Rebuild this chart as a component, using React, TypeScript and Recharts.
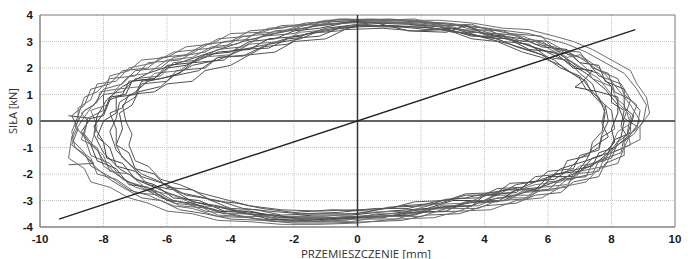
import {
  CartesianGrid,
  Line,
  LineChart,
  ReferenceArea,
  ReferenceLine,
  XAxis,
  YAxis,
} from "recharts";

type Pt = [number, number];

const xTicks = [-10, -8, -6, -4, -2, 0, 2, 4, 6, 8, 10];
const yTicks = [-4, -3, -2, -1, 0, 1, 2, 3, 4];

const loopA: Pt[] = [
  [0, 3.75], [1, 3.72], [2, 3.65], [3, 3.5], [4, 3.3], [5, 3.0], [5.8, 2.7], [6.5, 2.3], [7.2, 1.8], [7.8, 1.2],
  [8.2, 0.6], [8.4, 0], [8.3, -0.6], [8.0, -1.1], [7.5, -1.6], [6.8, -2.0], [6.0, -2.4], [5.0, -2.8], [4.0, -3.0],
  [3.0, -3.2], [2.0, -3.35], [1.0, -3.5], [0, -3.6], [-1, -3.65], [-2, -3.65], [-3, -3.5], [-4, -3.35], [-5, -3.1],
  [-6, -2.7], [-6.8, -2.3], [-7.5, -1.8], [-8.0, -1.2], [-8.3, -0.5], [-8.2, 0.2], [-7.9, 0.8], [-7.4, 1.3],
  [-6.6, 1.8], [-5.6, 2.2], [-4.6, 2.6], [-3.6, 3.0], [-2.6, 3.3], [-1.5, 3.55], [-0.5, 3.7], [0, 3.75],
];

const loopB: Pt[] = [
  [0.2, 3.8], [1.4, 3.8], [2.2, 3.7], [3.0, 3.65], [3.6, 3.45], [4.6, 3.4], [5.2, 3.1], [6.0, 3.0], [6.6, 2.6],
  [7.2, 2.3], [7.6, 1.7], [8.3, 1.4], [8.6, 0.8], [8.9, 0.4], [8.8, -0.3], [8.4, -0.6], [8.3, -1.2], [7.6, -1.5],
  [7.4, -2.0], [6.6, -2.2], [6.2, -2.6], [5.2, -2.7], [4.7, -3.0], [3.8, -3.1], [3.2, -3.4], [2.0, -3.45],
  [1.2, -3.7], [0, -3.7], [-1.2, -3.8], [-2.2, -3.75], [-3.2, -3.7], [-4.0, -3.5], [-4.8, -3.4], [-5.4, -3.1],
  [-6.2, -2.9], [-6.8, -2.5], [-7.4, -2.2], [-7.8, -1.6], [-8.4, -1.3], [-8.6, -0.6], [-8.9, -0.2], [-8.6, 0.4],
  [-8.3, 0.6], [-8.0, 1.2], [-7.4, 1.4], [-7.0, 1.9], [-6.2, 2.0], [-5.8, 2.4], [-4.8, 2.6], [-4.2, 3.0],
  [-3.2, 3.1], [-2.6, 3.4], [-1.6, 3.5], [-0.8, 3.75], [0.2, 3.8],
];

const loopC: Pt[] = [
  [0, 3.6], [1.2, 3.6], [2.4, 3.5], [3.4, 3.3], [4.4, 3.1], [5.0, 2.8], [5.8, 2.5], [6.4, 2.0], [7.0, 1.7],
  [7.4, 1.1], [7.8, 0.6], [7.9, 0], [7.7, -0.5], [7.6, -1.0], [7.0, -1.4], [6.6, -1.9], [5.8, -2.2], [5.2, -2.5],
  [4.2, -2.7], [3.4, -2.9], [2.6, -3.0], [1.6, -3.3], [0.6, -3.3], [-0.6, -3.45], [-1.8, -3.5], [-2.8, -3.4],
  [-3.6, -3.3], [-4.4, -3.0], [-5.4, -2.8], [-6.0, -2.4], [-6.8, -2.1], [-7.2, -1.6], [-7.6, -1.1], [-7.8, -0.4],
  [-7.6, 0.1], [-7.5, 0.7], [-7.0, 1.1], [-6.6, 1.5], [-5.8, 1.7], [-5.2, 2.1], [-4.4, 2.3], [-3.6, 2.7],
  [-2.8, 2.9], [-2.0, 3.2], [-1.0, 3.4], [0, 3.6],
];

const loopD: Pt[] = [
  [-0.4, 3.85], [0.8, 3.8], [1.8, 3.8], [2.8, 3.6], [3.4, 3.6], [4.2, 3.3], [5.0, 3.25], [5.6, 2.9], [6.2, 2.8],
  [6.8, 2.4], [7.2, 2.0], [7.4, 1.6], [8.0, 1.3], [8.2, 0.7], [8.6, 0.2], [8.5, -0.4], [8.6, -0.9], [8.0, -1.2],
  [7.8, -1.7], [7.0, -1.9], [6.6, -2.4], [5.8, -2.5], [5.4, -2.9], [4.4, -2.9], [3.8, -3.2], [2.6, -3.2],
  [1.8, -3.5], [0.6, -3.5], [-0.4, -3.75], [-1.6, -3.7], [-2.6, -3.8], [-3.6, -3.6], [-4.4, -3.55], [-5.0, -3.2],
  [-5.8, -3.1], [-6.4, -2.7], [-7.0, -2.5], [-7.6, -2.0], [-8.0, -1.7], [-8.2, -1.0], [-8.7, -0.7], [-8.5, 0.0],
  [-8.7, 0.3], [-8.2, 0.7], [-8.1, 1.1], [-7.6, 1.2], [-7.2, 1.7], [-6.6, 1.8], [-6.0, 2.3], [-5.2, 2.4],
  [-4.6, 2.8], [-3.8, 2.9], [-3.2, 3.3], [-2.2, 3.4], [-1.4, 3.7], [-0.4, 3.85],
];

const loopE: Pt[] = [
  [0.4, 3.7], [1.6, 3.65], [2.6, 3.55], [3.6, 3.2], [4.6, 3.2], [5.4, 2.7], [6.2, 2.6], [6.8, 2.0], [7.4, 1.9],
  [7.1, 1.5], [6.85, 1.28], [7.6, 1.1], [8.2, 0.9], [8.2, 0.3], [8.0, -0.3], [8.1, -0.8], [7.7, -1.3], [7.2, -1.5],
  [6.8, -2.1], [6.0, -2.1], [5.6, -2.6], [4.6, -2.6], [4.0, -3.0], [3.0, -3.0], [2.2, -3.3], [1.0, -3.4],
  [-0.2, -3.55], [-1.4, -3.55], [-2.4, -3.65], [-3.4, -3.4], [-4.2, -3.4], [-5.0, -3.0], [-5.8, -2.9], [-6.4, -2.4],
  [-7.0, -2.2], [-7.4, -1.6], [-7.9, -1.4], [-8.0, -0.8], [-8.3, -0.2], [-8.0, 0.3], [-7.8, 0.9], [-7.3, 1.0],
  [-7.1, 1.5], [-6.4, 1.6], [-6.0, 2.1], [-5.2, 2.2], [-4.4, 2.6], [-3.4, 2.7], [-2.8, 3.1], [-1.8, 3.2],
  [-1.0, 3.5], [0.4, 3.7],
];

const loopF: Pt[] = [
  [0.6, 3.8], [1.8, 3.75], [2.8, 3.7], [3.8, 3.55], [4.4, 3.45], [5.4, 3.3], [6.0, 3.1], [6.6, 2.9], [7.2, 2.6],
  [7.8, 2.2], [8.4, 1.8], [8.8, 1.2], [9.1, 0.6], [9.0, 0.0], [8.7, -0.5], [8.2, -0.9], [7.8, -1.4], [7.2, -1.7],
  [6.8, -2.2], [6.0, -2.3], [5.4, -2.8], [4.4, -2.8], [3.6, -3.2], [2.4, -3.3], [1.4, -3.55], [0.2, -3.6],
  [-1.0, -3.75], [-2.0, -3.8], [-3.0, -3.6], [-3.8, -3.6], [-4.6, -3.3], [-5.6, -3.2], [-6.2, -2.8], [-7.0, -2.7],
  [-7.6, -2.2], [-8.2, -2.0], [-8.4, -1.4], [-8.9, -1.0], [-9.0, -0.4], [-8.8, 0.2], [-8.6, 0.9], [-8.2, 1.1],
  [-7.8, 1.6], [-7.0, 1.7], [-6.6, 2.2], [-5.6, 2.3], [-5.0, 2.7], [-4.2, 2.8], [-3.6, 3.2], [-2.6, 3.3],
  [-1.8, 3.6], [-0.6, 3.7], [0.6, 3.8],
];

const loopG: Pt[] = [
  [-0.2, 3.6], [0.8, 3.55], [2.0, 3.55], [3.0, 3.4], [3.8, 3.2], [4.8, 2.9], [5.6, 2.6], [6.2, 2.3], [6.6, 1.9],
  [7.2, 1.5], [7.4, 1.0], [7.8, 0.5], [7.7, -0.1], [7.9, -0.6], [7.4, -1.0], [7.2, -1.5], [6.4, -1.8], [6.0, -2.2],
  [5.0, -2.4], [4.4, -2.8], [3.4, -2.8], [2.6, -3.1], [1.4, -3.2], [0.4, -3.4], [-0.8, -3.35], [-2.0, -3.45],
  [-3.0, -3.3], [-3.8, -3.1], [-4.6, -3.0], [-5.2, -2.6], [-6.0, -2.5], [-6.4, -2.0], [-7.0, -1.8], [-7.2, -1.2],
  [-7.6, -0.9], [-7.4, -0.3], [-7.5, 0.3], [-7.1, 0.6], [-6.9, 1.1], [-6.2, 1.3], [-5.8, 1.7], [-5.0, 1.9],
  [-4.4, 2.4], [-3.4, 2.5], [-2.8, 2.9], [-1.8, 3.1], [-1.2, 3.4], [-0.2, 3.6],
];

const loopH: Pt[] = [
  [-9.1, -1.65], [-8.3, -1.6], [-8.6, -1.3], [-9.0, -0.9], [-8.8, -0.3], [-9.0, 0.2], [-8.6, 0.6], [-8.4, 1.2],
  [-7.8, 1.4], [-7.4, 1.9], [-6.6, 2.0], [-6.2, 2.4], [-5.4, 2.5], [-4.8, 2.9], [-4.0, 3.0], [-3.4, 3.4],
  [-2.4, 3.5], [-1.6, 3.7], [0.0, 3.8], [1.0, 3.85], [2.2, 3.75], [3.2, 3.6], [4.0, 3.5], [4.8, 3.3], [5.8, 3.2],
  [6.2, 2.7], [7.0, 2.6], [7.4, 2.0], [7.9, 1.8], [8.1, 1.1], [8.6, 0.8], [8.4, 0.1], [8.8, -0.2], [8.4, -0.8],
  [8.4, -1.3], [7.8, -1.6], [7.6, -2.1], [6.8, -2.3], [6.4, -2.7], [5.6, -2.8], [5.0, -3.1], [4.0, -3.2],
  [3.2, -3.5], [2.2, -3.55], [1.4, -3.75], [0.4, -3.8], [-0.8, -3.85], [-2.0, -3.85], [-3.0, -3.75], [-4.0, -3.7],
  [-4.8, -3.5], [-5.6, -3.35], [-6.2, -3.0], [-6.8, -2.9], [-7.4, -2.5], [-7.8, -2.2], [-8.2, -1.8], [-8.6, -1.3],
];

const loopI: Pt[] = [
  [0.2, 3.7], [1.4, 3.7], [2.4, 3.6], [3.2, 3.45], [4.2, 3.4], [4.8, 3.05], [5.6, 3.0], [6.4, 2.5], [6.8, 2.2],
  [7.6, 1.6], [8.0, 1.0], [8.4, 0.6], [8.6, -0.1], [8.2, -0.4], [8.0, -0.9], [7.8, -1.5], [7.0, -1.7], [6.4, -2.3],
  [5.6, -2.4], [4.8, -2.7], [4.2, -2.75], [3.4, -3.1], [2.4, -3.15], [1.6, -3.4], [0.2, -3.45], [-1.0, -3.6],
  [-2.2, -3.6], [-3.2, -3.55], [-4.2, -3.25], [-5.0, -3.2], [-5.8, -2.8], [-6.6, -2.6], [-7.2, -2.0], [-7.8, -1.9],
  [-8.0, -1.3], [-8.4, -0.9], [-8.2, -0.2], [-8.4, 0.4], [-7.9, 0.6], [-7.6, 1.2], [-6.8, 1.3], [-6.4, 1.8],
  [-5.6, 1.9], [-5.0, 2.4], [-4.0, 2.5], [-3.4, 2.9], [-2.4, 3.0], [-1.8, 3.35], [-0.8, 3.45], [0.2, 3.7],
];

const loopJ: Pt[] = [
  [-9.1, 0.2], [-8.4, 0.1], [-8.0, 0.2], [-7.8, 0.8], [-7.4, 1.0], [-7.2, 1.5], [-6.4, 1.6], [-6.0, 2.0],
  [-5.4, 2.1], [-4.8, 2.5], [-4.0, 2.6], [-3.4, 3.0], [-2.6, 3.1], [-2.0, 3.4], [-1.2, 3.5], [-0.2, 3.75],
  [0.6, 3.7], [1.6, 3.4], [2.8, 3.35], [3.4, 3.6], [4.0, 3.3], [5.2, 3.1], [5.8, 2.8], [6.6, 2.7], [7.0, 2.2],
  [7.6, 2.1], [7.8, 1.5], [8.4, 1.2], [8.4, 0.5], [8.7, 0.2], [8.5, -0.5], [8.1, -0.7], [7.9, -1.2], [7.4, -1.4],
  [7.0, -1.9], [6.2, -2.0], [5.8, -2.5], [5.0, -2.6], [4.4, -3.05], [3.4, -3.05], [2.8, -3.4], [1.6, -3.45],
  [0.8, -3.65], [-0.4, -3.65], [-1.6, -3.75], [-2.8, -3.7], [-3.6, -3.45], [-4.4, -3.4], [-5.2, -3.1],
  [-6.0, -3.0], [-6.6, -2.5], [-7.2, -2.4], [-7.6, -1.8], [-8.2, -1.5], [-8.4, -0.9], [-8.7, -0.4], [-8.4, 0.1],
];

const loopK: Pt[] = [
  [-7.3, 0.0], [-7.4, 0.6], [-7.0, 0.9], [-6.8, 1.4], [-6.0, 1.5], [-5.7, 1.9], [-4.8, 2.0], [-4.4, 2.4],
  [-3.6, 2.45], [-3.0, 2.8], [-2.2, 2.9], [-1.6, 3.3], [-0.6, 3.4], [0.2, 3.65], [1.2, 3.55], [2.0, 3.6],
  [3.0, 3.35], [3.8, 3.35], [4.6, 3.0], [5.4, 2.9], [6.0, 2.4], [6.6, 2.3], [7.0, 1.8], [7.4, 1.4], [7.6, 0.8],
  [8.0, 0.4], [8.1, -0.3], [7.7, -0.6], [7.6, -1.1], [7.0, -1.3], [6.8, -1.8], [6.0, -1.9], [5.6, -2.3],
  [4.8, -2.35], [4.4, -2.7], [3.4, -2.75], [2.8, -3.0], [1.8, -3.05], [1.0, -3.3], [0.0, -3.35], [-1.2, -3.4],
  [-2.4, -3.35], [-3.4, -3.2], [-4.2, -2.95], [-5.0, -2.7], [-5.6, -2.4], [-6.2, -2.2], [-6.6, -1.7],
  [-7.0, -1.5], [-7.2, -0.9], [-7.1, -0.5], [-7.3, 0.0],
];

const loopL: Pt[] = [
  [-9.0, -0.6], [-8.8, 0.0], [-8.8, 0.5], [-8.4, 0.8], [-8.2, 1.4], [-7.6, 1.5], [-7.2, 2.0], [-6.4, 2.2],
  [-5.8, 2.6], [-5.0, 2.7], [-4.4, 3.1], [-3.4, 3.2], [-2.8, 3.5], [-1.8, 3.6], [-1.0, 3.8], [0.4, 3.85],
  [1.6, 3.8], [2.6, 3.8], [3.6, 3.7], [4.6, 3.5], [5.4, 3.45], [6.2, 3.2], [6.8, 3.0], [7.4, 2.7], [8.0, 2.3],
  [8.6, 1.9], [8.8, 1.4], [9.1, 0.9], [9.2, 0.3], [8.9, -0.2], [8.9, -0.7], [8.4, -1.0], [8.2, -1.6], [7.6, -1.8],
  [7.2, -2.3], [6.4, -2.5], [5.8, -2.9], [5.0, -3.0], [4.2, -3.35], [3.2, -3.4], [2.4, -3.65], [1.2, -3.7],
  [0.0, -3.85], [-1.2, -3.9], [-2.4, -3.9], [-3.4, -3.8], [-4.4, -3.75], [-5.2, -3.5], [-6.0, -3.4], [-6.6, -3.1],
  [-7.2, -2.9], [-7.8, -2.5], [-8.4, -2.3], [-8.6, -1.8], [-9.1, -1.4], [-9.0, -0.6],
];

const loopM: Pt[] = [
  [0.0, 3.55], [1.0, 3.6], [2.2, 3.45], [3.0, 3.5], [4.0, 3.15], [4.8, 3.1], [5.6, 2.75], [6.4, 2.5], [7.0, 2.0],
  [7.6, 1.8], [8.0, 1.3], [8.0, 0.7], [8.4, 0.4], [8.3, -0.2], [8.5, -0.6], [8.1, -1.0], [7.6, -1.2], [7.4, -1.7],
  [6.6, -1.9], [6.2, -2.2], [5.4, -2.3], [5.0, -2.7], [4.0, -2.8], [3.6, -3.2], [2.6, -3.25], [1.8, -3.55],
  [0.6, -3.6], [-0.6, -3.7], [-1.8, -3.7], [-2.6, -3.55], [-3.6, -3.5], [-4.4, -3.2], [-5.2, -3.05], [-5.8, -2.6],
  [-6.6, -2.4], [-7.0, -1.9], [-7.6, -1.7], [-7.8, -1.0], [-8.2, -0.6], [-8.0, 0.0], [-7.6, 0.3], [-7.6, 0.9],
  [-7.0, 1.0], [-6.8, 1.5], [-6.2, 1.6], [-5.6, 1.8], [-5.2, 2.2], [-4.2, 2.3], [-3.8, 2.7], [-2.8, 2.75],
  [-2.2, 3.1], [-1.2, 3.2], [-0.6, 3.5], [0.0, 3.55],
];

const loopN: Pt[] = [
  [0.8, 3.75], [2.0, 3.7], [3.0, 3.55], [3.6, 3.35], [4.4, 3.3], [5.2, 3.0], [5.8, 3.0], [6.4, 2.6], [7.0, 2.4],
  [7.6, 1.9], [8.2, 1.6], [8.4, 1.0], [8.8, 0.6], [8.6, 0.0], [8.6, -0.4], [8.2, -0.8], [8.0, -1.4], [7.4, -1.6],
  [7.2, -2.1], [6.4, -2.2], [6.0, -2.6], [5.2, -2.65], [4.6, -3.0], [3.6, -3.0], [3.0, -3.3], [1.8, -3.35],
  [1.0, -3.6], [-0.2, -3.6], [-1.4, -3.7], [-2.6, -3.65], [-3.4, -3.5], [-4.2, -3.5], [-5.0, -3.2], [-5.8, -3.0],
  [-6.4, -2.6], [-7.2, -2.3], [-7.6, -2.0], [-8.0, -1.5], [-8.2, -1.1], [-8.6, -0.5], [-8.5, 0.1], [-8.0, 0.4],
  [-8.0, 1.0], [-7.4, 1.1], [-7.0, 1.6], [-6.2, 1.7], [-5.8, 2.2], [-5.0, 2.3], [-4.4, 2.7], [-3.6, 2.8],
  [-3.0, 3.2], [-2.0, 3.3], [-1.4, 3.6], [-0.2, 3.7], [0.8, 3.75],
];

const loopO: Pt[] = [
  [-7.6, -0.3], [-7.8, 0.3], [-7.4, 0.5], [-7.2, 1.0], [-6.4, 1.1], [-6.0, 1.4], [-5.2, 1.5], [-4.8, 1.9],
  [-4.0, 2.1], [-3.4, 2.5], [-2.6, 2.6], [-2.0, 3.0], [-1.0, 3.1], [-0.4, 3.45], [0.8, 3.5], [1.8, 3.4],
  [2.8, 3.45], [3.6, 3.1], [4.4, 3.0], [5.2, 2.6], [5.8, 2.4], [6.4, 2.1], [7.0, 1.6], [7.2, 1.2], [7.6, 0.9],
  [7.8, 0.3], [7.7, -0.4], [7.4, -0.8], [7.3, -1.3], [6.6, -1.5], [6.4, -2.0], [5.6, -2.1], [5.2, -2.5],
  [4.4, -2.55], [3.8, -2.9], [2.8, -2.95], [2.2, -3.2], [1.0, -3.25], [0.0, -3.5], [-1.2, -3.5], [-2.4, -3.55],
  [-3.2, -3.35], [-4.0, -3.3], [-4.8, -2.9], [-5.6, -2.7], [-6.2, -2.3], [-6.8, -2.0], [-7.4, -1.4],
  [-7.6, -0.9], [-7.6, -0.3],
];

const loopP: Pt[] = [
  [-8.8, -0.2], [-8.4, 0.5], [-8.0, 1.0], [-7.8, 1.7], [-7.2, 1.9], [-6.8, 2.3], [-6.0, 2.4], [-5.4, 2.8],
  [-4.6, 2.9], [-4.0, 3.3], [-3.0, 3.35], [-2.4, 3.6], [-1.4, 3.65], [-0.6, 3.85], [0.6, 3.8], [1.8, 3.85],
  [2.6, 3.6], [3.6, 3.65], [4.4, 3.3], [5.2, 3.2], [6.0, 2.85], [6.6, 2.4], [7.0, 2.5], [7.6, 2.0], [8.0, 1.5],
  [8.2, 1.2], [8.6, 0.6], [8.9, 0.0], [8.6, -0.5], [8.4, -1.0], [7.8, -1.3], [7.6, -1.9], [6.8, -2.0],
  [6.6, -2.5], [5.8, -2.6], [5.2, -2.95], [4.4, -3.0], [3.8, -3.3], [2.8, -3.3], [2.0, -3.6], [0.8, -3.6],
  [-0.2, -3.8], [-1.4, -3.8], [-2.4, -3.8], [-3.4, -3.65], [-4.4, -3.6], [-5.2, -3.3], [-5.8, -3.2],
  [-6.6, -2.8], [-7.2, -2.6], [-7.8, -2.1], [-8.4, -1.7], [-8.6, -1.2], [-9.0, -0.7], [-8.8, -0.2],
];

const diagonal: Pt[] = [
  [-9.4, -3.7],
  [8.75, 3.45],
];

const loops = [
  loopA, loopB, loopC, loopD, loopE, loopF, loopG, loopH,
  loopI, loopJ, loopK, loopL, loopM, loopN, loopO, loopP,
];
const loopColors = [
  "#474747", "#636363", "#525252", "#707070", "#3e3e3e", "#6a6a6a", "#4e4e4e", "#5f5f5f",
  "#747474", "#444", "#585858", "#6e6e6e", "#4b4b4b", "#616161", "#555", "#6c6c6c",
];

const toRows = (pts: Pt[]) => pts.map(([x, y]) => ({ x, y }));

const labelFont = "'Open Sans', sans-serif";

function AxisTick(props: any) {
  const { x, y, payload, textAnchor, vertical } = props;
  return (
    <text
      x={x}
      y={y}
      dy={vertical ? "0.35em" : "0.75em"}
      textAnchor={textAnchor}
      fontFamily="'Liberation Sans', Arial, sans-serif"
      fontSize={11.5}
      fontWeight="bold"
      fill="#1a1a1a"
    >
      {payload.value}
    </text>
  );
}

export default function App() {
  return (
    <div style={{ position: "absolute", left: 0, top: 0, width: 696, height: 259, background: "#fff" }}>
      <LineChart width={696} height={259} margin={{ top: 15, right: 21, bottom: 0, left: 0 }}>
        <CartesianGrid stroke="#c4c4c4" strokeDasharray="1 1" />
        <XAxis
          type="number"
          dataKey="x"
          domain={[-10, 10]}
          ticks={xTicks}
          height={32}
          tickSize={4}
          tickMargin={3}
          tickLine={false}
          axisLine={{ stroke: "#888" }}
          tick={<AxisTick />}
          allowDataOverflow
        />
        <YAxis
          type="number"
          dataKey="y"
          domain={[-4, 4]}
          ticks={yTicks}
          width={40}
          tickSize={4}
          tickMargin={3}
          tickLine={false}
          axisLine={{ stroke: "#888" }}
          tick={<AxisTick vertical />}
          allowDataOverflow
        />
        <ReferenceArea x1={-10} x2={10} y1={-4} y2={4} fill="none" stroke="#888" strokeWidth={1} />
        {loops.map((loop, i) => (
          <Line
            key={`loop-${i}`}
            data={toRows(loop)}
            dataKey="y"
            type="linear"
            stroke={loopColors[i]}
            strokeWidth={1}
            dot={false}
            isAnimationActive={false}
          />
        ))}
        <ReferenceLine x={0} stroke="#333" strokeWidth={1.5} />
        <ReferenceLine y={0} stroke="#333" strokeWidth={1.5} />
        <Line
          data={toRows(diagonal)}
          dataKey="y"
          type="linear"
          stroke="#222"
          strokeWidth={1.4}
          dot={false}
          isAnimationActive={false}
        />
      </LineChart>
      <div
        style={{
          position: "absolute",
          left: 12,
          top: 111,
          transform: "translate(-50%, -50%) rotate(-90deg)",
          fontFamily: labelFont,
          fontSize: 11,
          color: "#333",
          whiteSpace: "nowrap",
        }}
      >
        SIŁA [kN]
      </div>
      <div
        style={{
          position: "absolute",
          left: 366,
          top: 253,
          transform: "translate(-50%, -50%)",
          fontFamily: labelFont,
          fontSize: 11.5,
          color: "#333",
          whiteSpace: "nowrap",
        }}
      >
        PRZEMIESZCZENIE [mm]
      </div>
    </div>
  );
}
